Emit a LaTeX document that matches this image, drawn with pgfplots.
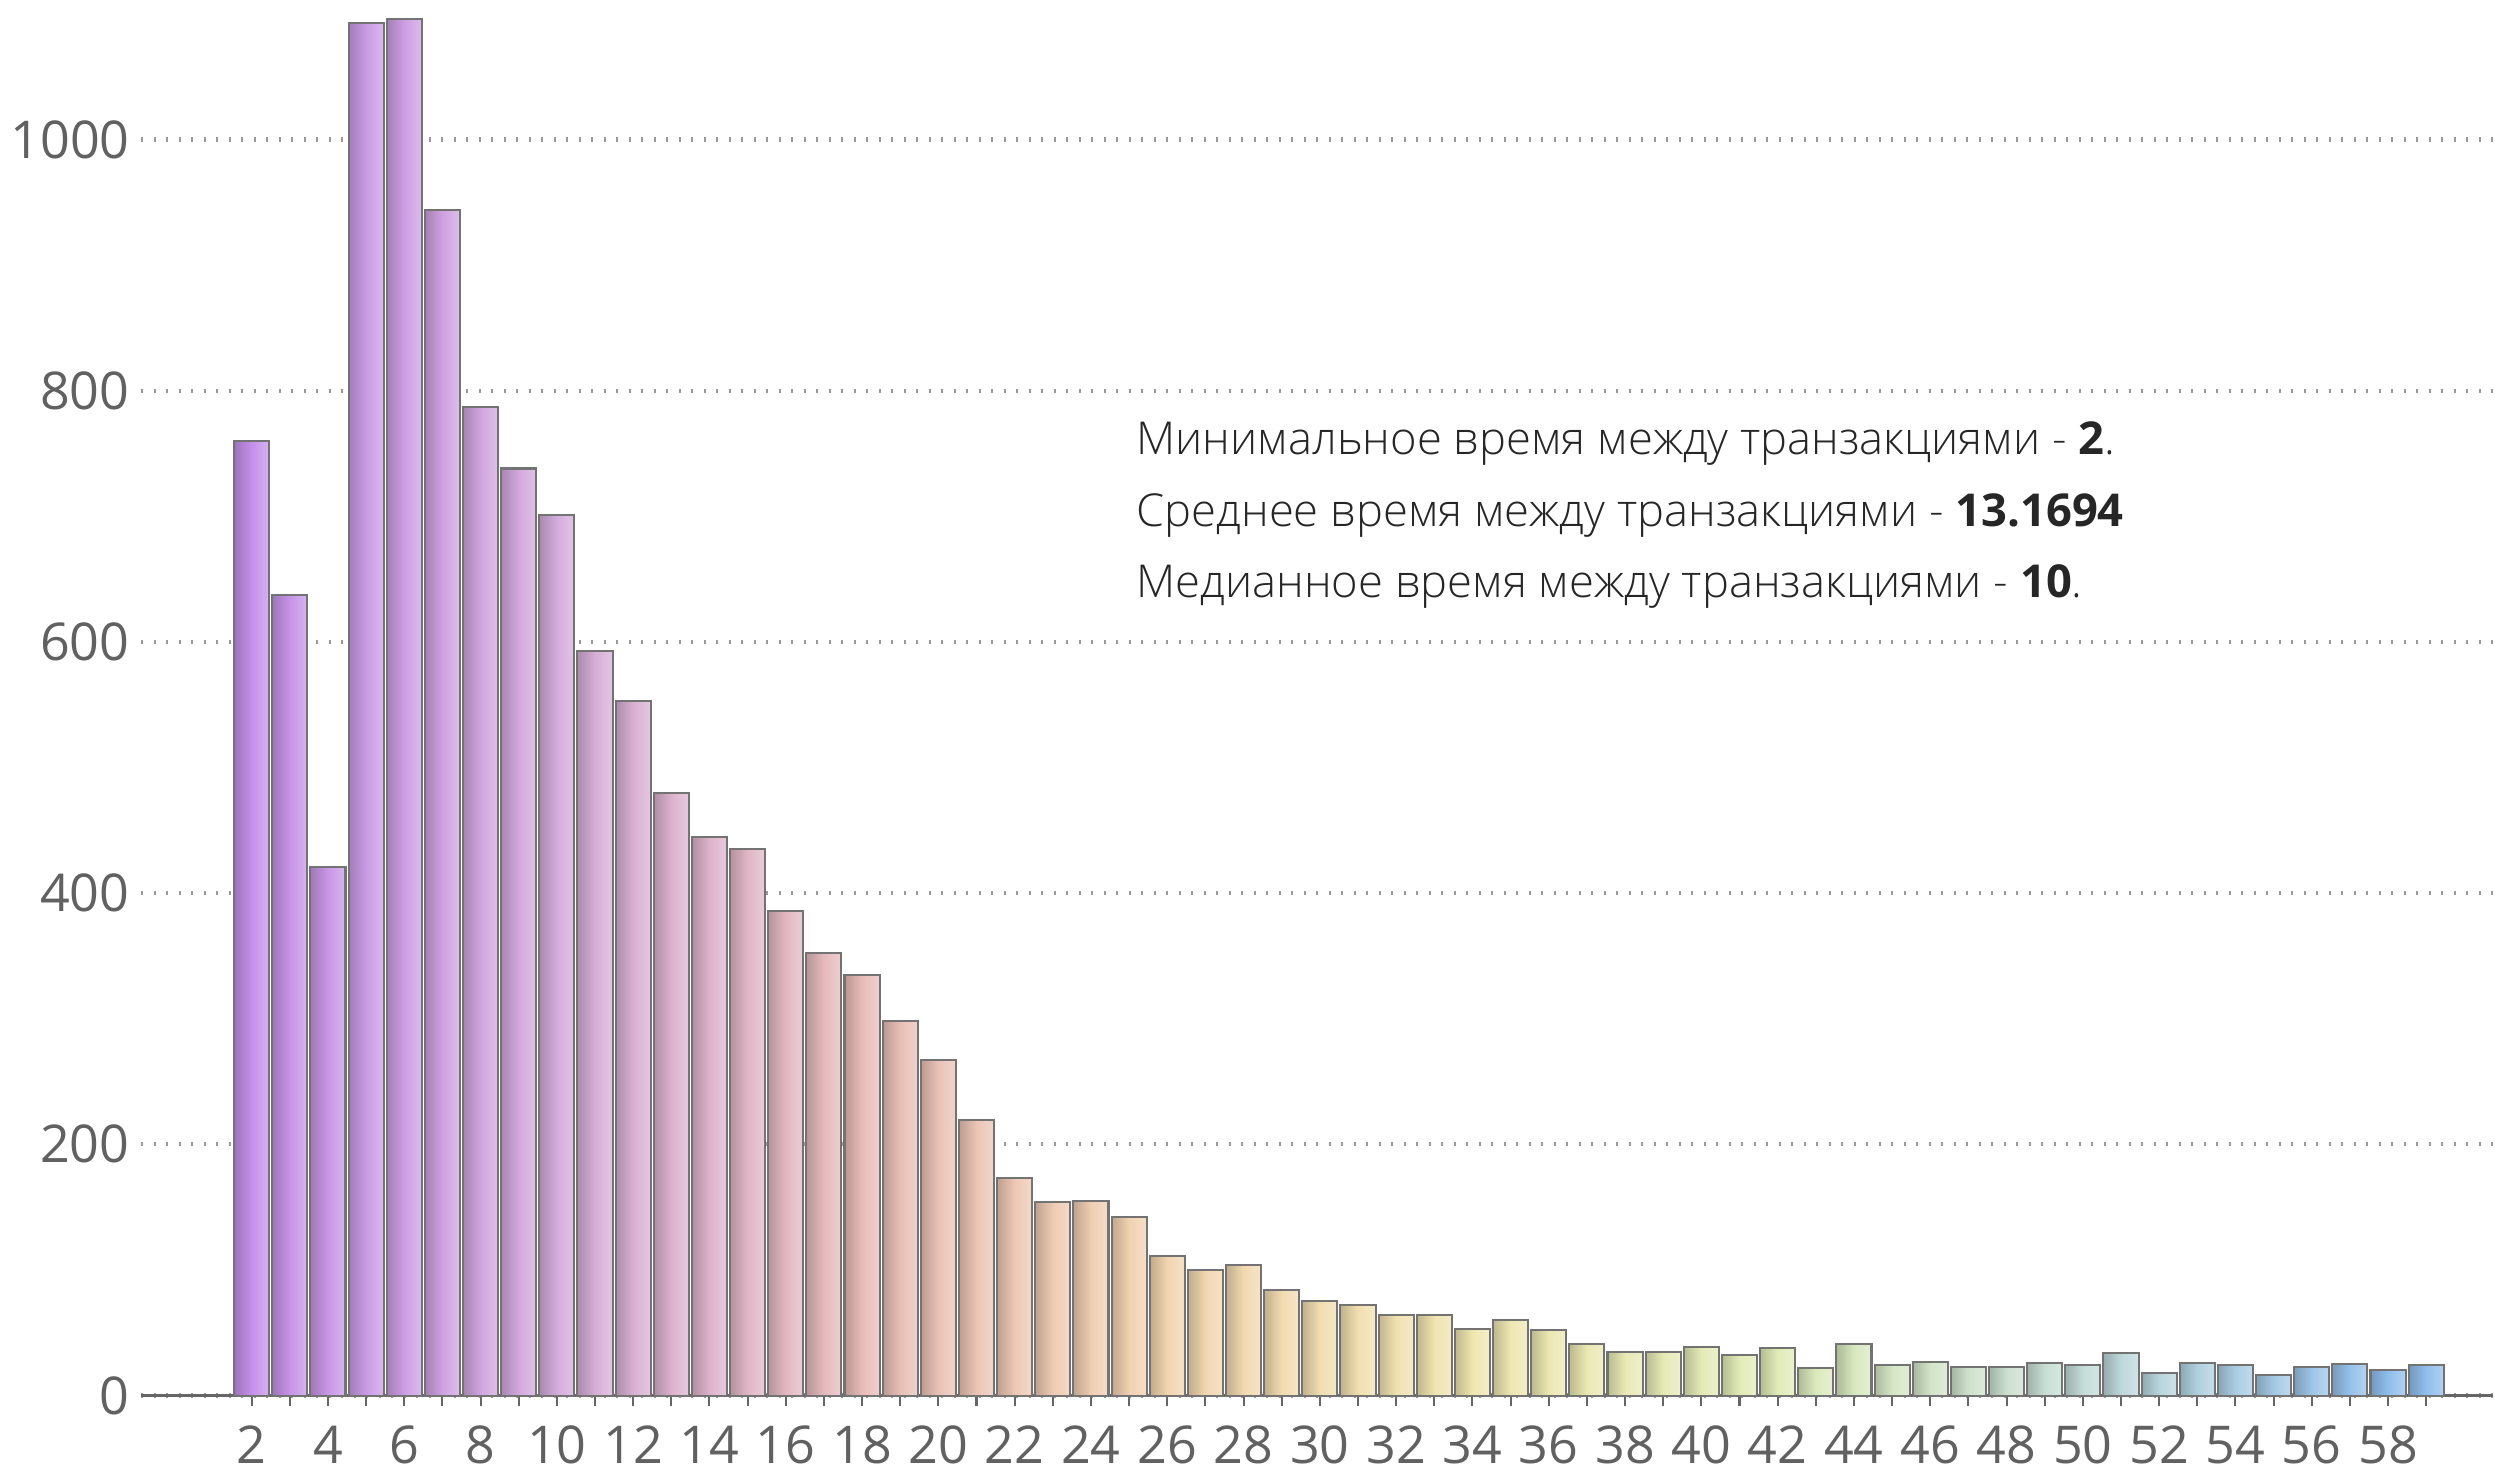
\documentclass[border=0pt]{standalone}
\usepackage{pgfplots}
\pgfplotsset{compat=1.18}
\usepackage{pgfplotstable}
\usepackage{fontspec}
\setmainfont{Open Sans}
\IfFontExistsTF{Open Sans Light}{\newfontfamily\lightfont{Open Sans Light}}{\newfontfamily\lightfont{Open Sans}}

\definecolor{A0}{HTML}{C590EA}
\definecolor{A1}{HTML}{D4ACDC}
\definecolor{A2}{HTML}{E8BCB8}
\definecolor{A3}{HTML}{F2D4B0}
\definecolor{A4}{HTML}{F0E6B0}
\definecolor{A5}{HTML}{E0ECB8}
\definecolor{A6}{HTML}{C4DCD8}
\definecolor{A7}{HTML}{90BEEC}
\foreach \x in {2,...,59}{%
  \pgfmathtruncatemacro\seg{min(floor((\x-2)/8),6)}%
  \pgfmathtruncatemacro\nxt{\seg+1}%
  \pgfmathtruncatemacro\p{max(100-((\x-2)-8*\seg)*12.5,0)}%
  \xglobal\colorlet{bar\x}{A\seg!\p!A\nxt}%
}

\pgfplotstableread{
x y
2 760
3 637
4 421
5 1093
6 1096
7 944
8 787
9 738
10 701
11 593
12 553
13 480
14 445
15 435
16 386
17 352
18 335
19 298
20 267
21 219
22 173
23 154
24 155
25 142
26 111
27 100
28 104
29 84
30 75
31 72
32 64
33 64
34 53
35 60
36 52
37 41
38 35
39 35
40 39
41 32
42 38
43 22
44 41
45 24
46 27
47 23
48 23
49 26
50 24
51 34
52 18
53 26
54 24
55 16
56 23
57 25
58 20
59 24
}\data

\begin{document}
\begin{tikzpicture}
\begin{axis}[
  width=451.5pt, height=267.9pt, scale only axis,
  xmin=-0.9, xmax=60.75, ymin=0, ymax=1111,
  axis x line*=bottom, axis y line*=left,
  y axis line style={draw=none},
  x axis line style={draw=black!60, line width=0.6pt},
  xtick={2,4,...,58}, minor xtick={3,5,...,59},
  ytick={0,200,...,1000},
  tick align=inside,
  major tick length=2pt, minor tick length=2pt,
  ytick style={draw=none},
  xtick style={draw=black!60, line width=0.4pt},
  ymajorgrids,
  grid style={dotted, black!40, line width=0.8pt},
  ticklabel style={font=\fontsize{10}{12}\selectfont, text=black!62},
  /pgf/number format/assume math mode=true,
  yticklabel style={/pgf/number format/1000 sep={}, inner xsep=2pt},
  xticklabel style={inner ysep=1pt, yshift=-2.6pt},
  ybar, bar width=0.92, bar shift=0pt,
  clip=false,
]
\pgfplotsinvokeforeach{2,...,59}{
  \addplot[mark=none, draw=black!55, line width=0.4pt,
    left color=bar#1!80!black, right color=bar#1!70!white, middle color=bar#1]
    table[x=x, y=y, restrict x to domain=#1:#1]{\data};
}
\begin{scope}[every node/.style={anchor=base west, inner sep=0pt, font=\lightfont\fontsize{8.7}{10}\selectfont, text=black!85}]
\node at (axis cs:25.17,749) {Минимальное время между транзакциями - {\rmfamily\bfseries 2}.};
\node at (axis cs:25.17,692) {Среднее время между транзакциями - {\rmfamily\bfseries 13.1694}};
\node at (axis cs:25.17,635) {Медианное время между транзакциями - {\rmfamily\bfseries 10}.};
\end{scope}
\end{axis}
\end{tikzpicture}
\end{document}
